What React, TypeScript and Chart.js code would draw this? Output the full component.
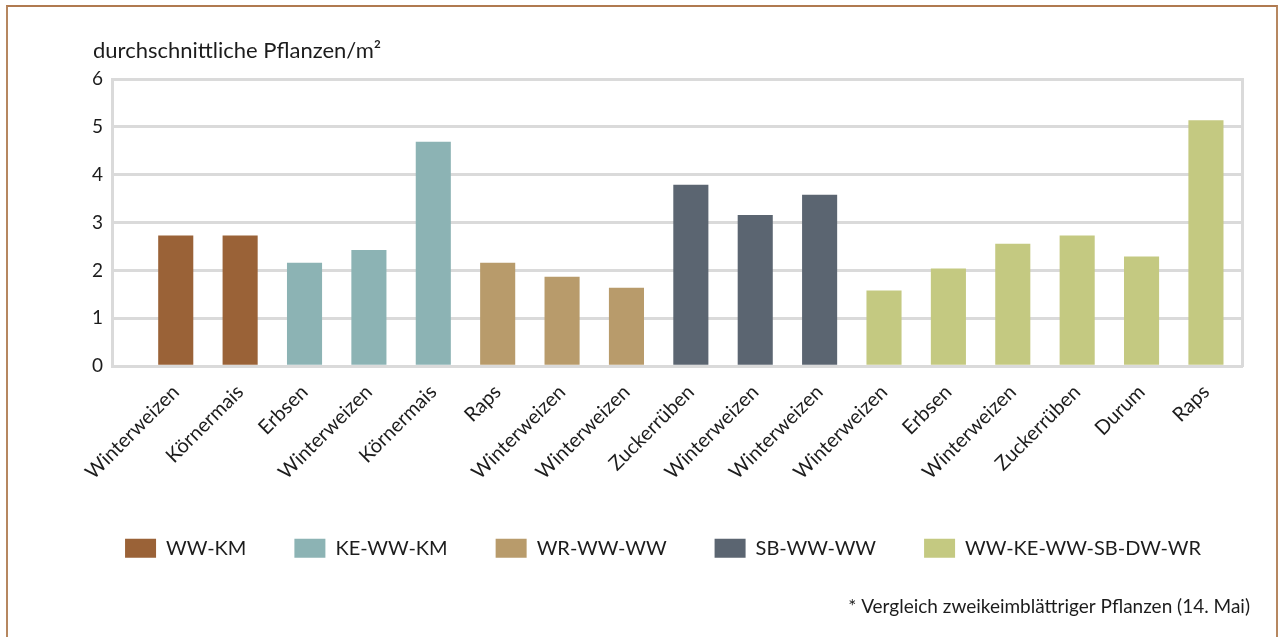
import { useEffect, useRef } from 'react';
import { Chart, registerables } from 'chart.js';

Chart.register(...registerables);

// Crops along the x axis, in drawing order
const cropLabels = [
  'Winterweizen', 'Körnermais',
  'Erbsen', 'Winterweizen', 'Körnermais',
  'Raps', 'Winterweizen', 'Winterweizen',
  'Zuckerrüben', 'Winterweizen', 'Winterweizen',
  'Winterweizen', 'Erbsen', 'Winterweizen', 'Zuckerrüben', 'Durum', 'Raps',
];

// Crop rotations (legend entries)
const rotationNames = ['WW-KM', 'KE-WW-KM', 'WR-WW-WW', 'SB-WW-WW', 'WW-KE-WW-SB-DW-WR'];

// Average plants per m² for each rotation
const wwKm = [2.73, 2.73];
const keWwKm = [2.16, 2.43, 4.69];
const wrWwWw = [2.16, 1.87, 1.64];
const sbWwWw = [3.79, 3.16, 3.58];
const wwKeWwSbDwWr = [1.58, 2.04, 2.56, 2.73, 2.29, 5.14];

const rotationValues = [wwKm, keWwKm, wrWwWw, sbWwWw, wwKeWwSbDwWr];
const rotationColors = ['#9a6237', '#8cb3b4', '#b89b6b', '#5b6571', '#c4c981'];

const yMin = 0;
const yMax = 6;
const yStep = 1;

const axisTitle = 'durchschnittliche Pflanzen/m²';
const footnote = '* Vergleich zweikeimblättriger Pflanzen (14. Mai)';

const FONT = 'Lato, "Open Sans", sans-serif';
const TEXT = '#1c1c1c';
const GRID = '#dadada';

// Consecutive x positions, one per crop, continuing across rotations
function buildDatasets() {
  let pos = 0;
  return rotationValues.map((values, s) => {
    const data = values.map((v, k) => ({ x: pos + k, y: v }));
    pos += values.length;
    return {
      label: rotationNames[s],
      data,
      backgroundColor: rotationColors[s],
      borderWidth: 0,
      grouped: false,
      categoryPercentage: 1,
      barPercentage: 0.545,
    };
  });
}

// Horizontal axis caption above the value axis
const axisTitlePlugin = {
  id: 'axisTitle',
  afterDraw(chart: any) {
    const { ctx, chartArea } = chart;
    ctx.save();
    ctx.font = `22px ${FONT}`;
    ctx.fillStyle = TEXT;
    ctx.textAlign = 'left';
    ctx.textBaseline = 'alphabetic';
    ctx.fillText(axisTitle, chartArea.left - 19, chartArea.top - 21);
    ctx.restore();
  },
};

export default function App() {
  const canvasRef = useRef<HTMLCanvasElement | null>(null);

  useEffect(() => {
    if (!canvasRef.current) return;
    const chart = new Chart(canvasRef.current, {
      type: 'bar',
      data: { datasets: buildDatasets() as any },
      options: {
        animation: false,
        responsive: false,
        devicePixelRatio: 1,
        layout: { padding: { left: 68, right: 26, top: 72, bottom: 0 } },
        scales: {
          x: {
            type: 'linear',
            bounds: 'data',
            offset: false,
            min: -0.99,
            max: 16.56,
            afterBuildTicks: (scale: any) => {
              scale.ticks = cropLabels.map((_, i) => ({ value: i }));
            },
            afterFit: (scale: any) => {
              scale.height = 124;
            },
            ticks: {
              stepSize: 1,
              autoSkip: false,
              minRotation: 45,
              maxRotation: 45,
              padding: 6,
              color: TEXT,
              font: { family: FONT, size: 20 },
              callback: (v: any) => cropLabels[v as number] ?? '',
            },
            grid: { display: false },
            border: { display: true, color: GRID, width: 3 },
          },
          y: {
            min: yMin,
            max: yMax,
            afterFit: (scale: any) => {
              scale.width = 36;
            },
            ticks: {
              stepSize: yStep,
              padding: 9,
              color: TEXT,
              font: { family: FONT, size: 19 },
            },
            grid: { color: GRID, lineWidth: 3, drawTicks: false },
            border: { display: true, color: GRID, width: 3 },
          },
          yRight: {
            position: 'right',
            min: yMin,
            max: yMax,
            afterFit: (scale: any) => {
              scale.width = 8;
            },
            ticks: { display: false },
            grid: { display: false, drawTicks: false },
            border: { display: true, color: GRID, width: 3 },
          },
        },
        plugins: {
          legend: {
            position: 'bottom',
            labels: {
              boxWidth: 31,
              boxHeight: 19,
              padding: 48,
              color: TEXT,
              font: { family: FONT, size: 20 },
            },
          },
          subtitle: {
            display: true,
            position: 'bottom',
            align: 'end',
            text: footnote,
            color: TEXT,
            font: { family: FONT, size: 19, weight: 'normal' },
            padding: { top: 27, bottom: 19 },
          },
          tooltip: { enabled: false },
        },
      } as any,
      plugins: [axisTitlePlugin],
    });
    return () => chart.destroy();
  }, []);

  return (
    <div
      style={{
        position: 'absolute',
        left: 6,
        top: 5,
        width: 1268,
        height: 630,
        borderTop: '2px solid #b07a50',
        borderLeft: '2px solid #b68760',
        borderRight: '2px solid #b68760',
        background: '#fff',
        overflow: 'hidden',
      }}
    >
      <canvas ref={canvasRef} width={1268} height={630} style={{ display: 'block' }} />
    </div>
  );
}
